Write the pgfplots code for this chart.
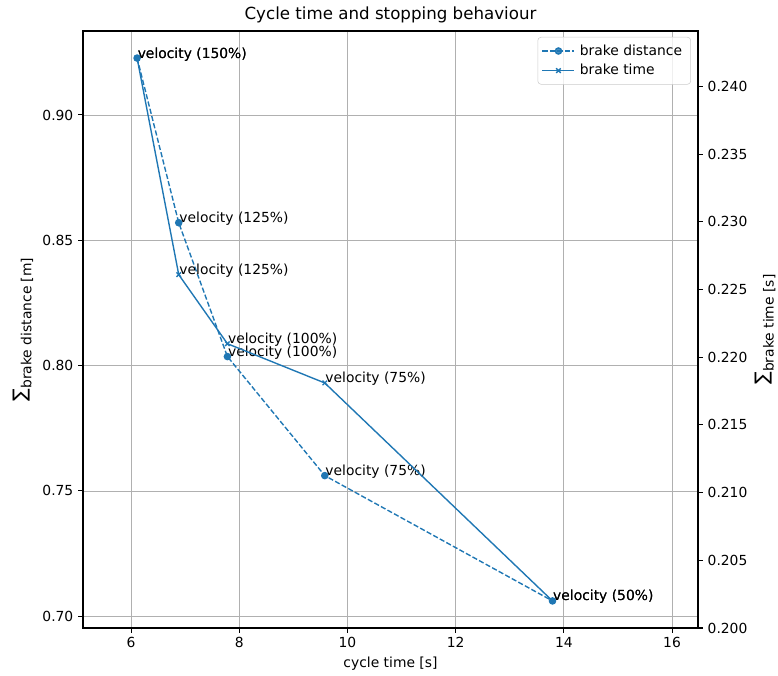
\documentclass[border=0pt]{standalone}
\usepackage{fontspec}
\setmainfont{DejaVu Sans}
\usepackage{pgfplots}
\usepackage{pgfplotstable}
\pgfplotsset{compat=1.18}
\definecolor{mplblue}{HTML}{1F77B4}
\definecolor{mplgrid}{HTML}{B0B0B0}

\pgfplotstableread{
x y label
6.11 0.9227 {velocity (150\%)}
6.88 0.8570 {velocity (125\%)}
7.78 0.8036 {velocity (100\%)}
9.58 0.7561 {velocity (75\%)}
13.79 0.7061 {velocity (50\%)}
}\distdata

\pgfplotstableread{
x y label
6.11 0.2421 {velocity (150\%)}
6.88 0.2261 {velocity (125\%)}
7.78 0.2210 {velocity (100\%)}
9.58 0.2181 {velocity (75\%)}
13.79 0.2020 {velocity (50\%)}
}\timedata

\newcommand{\bigsum}{\raisebox{4pt}{\fontsize{14}{14}\selectfont ∑}}

\begin{document}
\fontsize{10.4}{12.5}\selectfont
\begin{tikzpicture}
\path[use as bounding box] (-62.25pt,-35.25pt) rectangle (521.25pt,471pt);
\pgfplotsset{
  common/.style={
    width=461.25pt, height=447.75pt, scale only axis,
    xmin=5.11, xmax=16.48,
    axis line style={line width=0.8pt, black},
    every tick/.style={line width=0.8pt, black},
    tick align=outside, major tick length=3.6pt,
    /pgf/number format/assume math mode=true,
    tick label style={font=\fontsize{10.4}{12.5}\selectfont},
    label style={font=\fontsize{10.4}{12.5}\selectfont},
    nodes near coords,
    point meta=explicit symbolic,
    nodes near coords style={anchor=base west, inner sep=0pt, black, font=\fontsize{10.4}{12.5}\selectfont},
  },
}
\begin{axis}[common,
  ymin=0.6953, ymax=0.9335,
  xtick={6,8,10,12,14,16},
  ytick={0.70,0.75,0.80,0.85,0.90},
  yticklabel style={/pgf/number format/.cd, fixed, fixed zerofill, precision=2},
  tick pos=left,
  grid=major, grid style={mplgrid, line width=0.6pt},
  every axis title shift=0pt,
  title={Cycle time and stopping behaviour},
  title style={at={(axis description cs:0.5,1.008)}, anchor=south, yshift=0pt, inner sep=2pt, font=\fontsize{12.5}{15}\selectfont},
  xlabel={cycle time [s]},
  xlabel style={at={(axis description cs:0.5,-0.0603)}, anchor=center},
  ylabel={\bigsum brake distance [m]},
  ylabel style={at={(axis description cs:-0.0976,0.5)}, anchor=center},
]
\addplot[mplblue, line width=1.04pt, dash pattern=on 3.9pt off 1.7pt,
  mark=*, mark size=2.3pt, mark options={solid, fill=mplblue, draw=mplblue}]
  table[x=x, y=y, meta=label] {\distdata};
\end{axis}
\begin{axis}[common,
  ymin=0.2000, ymax=0.2441,
  axis x line=none,
  axis y line*=right,
  ytick={0.200,0.205,0.210,0.215,0.220,0.225,0.230,0.235,0.240},
  yticklabel style={/pgf/number format/.cd, fixed, fixed zerofill, precision=3},
  ylabel={\bigsum brake time [s]},
  ylabel style={at={(axis description cs:1.109,0.5)}, anchor=center},
  legend style={at={(axis description cs:0.9886,0.99)}, anchor=north east,
    draw=black!20, rounded corners=2.5pt, fill=white, fill opacity=0.8, text opacity=1,
    font=\fontsize{10.4}{12.5}\selectfont, inner xsep=3pt, inner ysep=3pt,
    nodes={inner xsep=3.5pt, inner ysep=2.6pt}},
  legend cell align=left,
  legend image code/.code={\draw[mark repeat=2,mark phase=2] plot coordinates {(0pt,0pt)(12pt,0pt)(24pt,0pt)};},
]
\addlegendimage{mplblue, line width=1.04pt, dash pattern=on 3.9pt off 1.7pt, mark=*, mark size=2.3pt, mark options={solid, fill=mplblue, draw=mplblue}}
\addlegendentry{brake distance}
\addplot[mplblue, line width=1.04pt, mark=x, mark size=2.4pt, mark options={solid}]
  table[x=x, y=y, meta=label] {\timedata};
\addlegendentry{brake time}
\end{axis}
\end{tikzpicture}
\end{document}
